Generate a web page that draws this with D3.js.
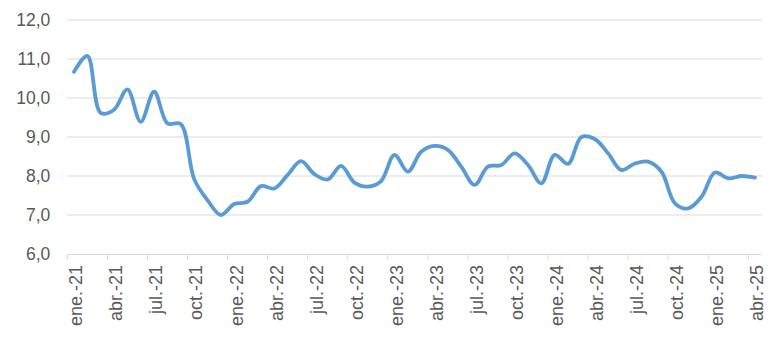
<!DOCTYPE html>
<html><head><meta charset="utf-8">
<script src="https://cdn.jsdelivr.net/npm/d3@7"></script>
<style>body{margin:0;background:#fff}</style>
</head><body>
<svg id="chart" width="783" height="361"></svg>
<script>
const monthNames = ["ene.","feb.","mar.","abr.","may.","jun.","jul.","ago.","sep.","oct.","nov.","dic."];
const categories = [];
for (let yy = 21; yy <= 25; yy++) for (let m = 0; m < 12; m++) { if (yy === 25 && m > 3) break; categories.push(monthNames[m] + "-" + yy); }
const values = [10.67,11.08,9.62,9.7,10.22,9.39,10.16,9.35,9.33,7.92,7.38,7.0,7.28,7.34,7.74,7.68,
  8.03,8.38,8.05,7.91,8.26,7.83,7.73,7.87,8.54,8.11,8.62,8.77,8.67,8.24,7.77,8.24,8.28,8.58,8.28,7.81,
  8.54,8.31,9.0,8.95,8.58,8.15,8.32,8.37,8.11,7.3,7.17,7.47,8.09,7.94,8.0,7.96];
const yTicks = [6,7,8,9,10,11,12];

const svg = d3.select("#chart");
const mLeft = 67.3, mRight = 761.7, mTop = 20, mBottom = 254;
const x = d3.scaleBand().domain(categories).range([mLeft, mRight]).paddingInner(0).paddingOuter(0);
const y = d3.scaleLinear().domain([6, 12]).range([mBottom, mTop]);
const font = "'Liberation Sans', Arial, sans-serif";

// gridlines
svg.append("g").selectAll("line").data(yTicks.filter(d => d > 6)).join("line")
  .attr("x1", mLeft).attr("x2", mRight).attr("y1", d => y(d)).attr("y2", d => y(d))
  .attr("stroke", "#D9D9D9").attr("stroke-width", 1);

// y axis labels
const yAxis = d3.axisLeft(y).tickValues(yTicks).tickSize(0).tickPadding(17)
  .tickFormat(d => d3.format(".1f")(d).replace(".", ","));
svg.append("g").attr("transform", `translate(${mLeft},0)`).call(yAxis)
  .call(g => g.select(".domain").remove())
  .selectAll("text").attr("font-family", font).attr("font-size", 17.5).attr("fill", "#595959");

// x axis
const xAxis = d3.axisBottom(x).tickSize(0).tickFormat((d, i) => i % 3 === 0 ? d : "");
const gx = svg.append("g").attr("transform", `translate(0,${mBottom})`).call(xAxis);
gx.select(".domain").attr("stroke", "#D9D9D9").attr("stroke-width", 1);
gx.selectAll(".tick text")
  .attr("font-family", font).attr("font-size", 18).attr("fill", "#595959")
  .attr("text-anchor", "end")
  .attr("transform", "rotate(-90)")
  .attr("x", -11).attr("y", 2).attr("dy", "0.35em");
// tick marks between categories every 3 months
const tickIdx = d3.range(0, categories.length + 1, 3);
gx.append("g").selectAll("line").data(tickIdx).join("line")
  .attr("x1", i => mLeft + i * x.step()).attr("x2", i => mLeft + i * x.step())
  .attr("y1", 0).attr("y2", 6).attr("stroke", "#D9D9D9").attr("stroke-width", 1);

// line
const line = d3.line()
  .x((d, i) => x(categories[i]) + x.bandwidth() / 2)
  .y(d => y(d))
  .curve(d3.curveCatmullRom.alpha(0.5));
svg.append("path").datum(values).attr("d", line)
  .attr("fill", "none").attr("stroke", "#5B9BD5").attr("stroke-width", 3.8)
  .attr("stroke-linejoin", "round").attr("stroke-linecap", "round");
</script>
</body></html>
